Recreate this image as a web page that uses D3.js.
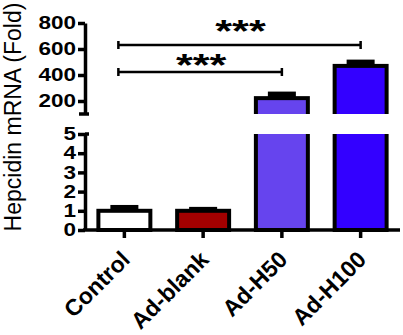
<!DOCTYPE html>
<html>
<head>
<meta charset="utf-8">
<script src="https://cdn.jsdelivr.net/npm/d3@7"></script>
<style>
  body { margin: 0; background: #fff; }
  svg { display: block; font-family: "Liberation Sans", Arial, sans-serif; }
</style>
</head>
<body>
<svg id="chart" width="403" height="335"></svg>
<script>
const groups = ["Control", "Ad-blank", "Ad-H50", "Ad-H100"];
const means = [1.0, 1.0, 222, 470];
const sems = [0.2, 0.1, 35, 33];
const colors = ["#ffffff", "#a30000", "#6644ee", "#3300ff"];
const lowTicks = [0, 1, 2, 3, 4, 5];
const highTicks = [200, 400, 600, 800];
const lowDomain = [0, 5];
const highDomain = [100, 800];
// significance brackets: [from group, to group, label]
const brackets = [["Control", "Ad-H100", "***"], ["Control", "Ad-H50", "***"]];
const bracketLevels = [630, 423];

var svg = d3.select("#chart");
const AXIS_X = 85;
const LINE_W = 3.5;
const STAR_SHIFT = [-3, 4];

var x = d3.scaleBand().domain(groups).range([AXIS_X, 400])
    .paddingInner(0.34).paddingOuter(0.17);
var yLow = d3.scaleLinear().domain(lowDomain).range([230, 134]);
var yHigh = d3.scaleLinear().domain(highDomain).range([114, 23]);

var data = groups.map((g, i) => ({ group: g, mean: means[i], sem: sems[i], color: colors[i] }));

var defs = svg.append("defs");
defs.append("clipPath").attr("id", "clipLow").append("rect")
    .attr("x", 0).attr("y", yLow(lowDomain[1])).attr("width", 403).attr("height", 240);
defs.append("clipPath").attr("id", "clipHigh").append("rect")
    .attr("x", 0).attr("y", 0).attr("width", 403).attr("height", yHigh(highDomain[0]));

// bottom panel bars
var low = svg.append("g").attr("clip-path", "url(#clipLow)");
low.selectAll("rect.bar").data(data).join("rect")
    .attr("class", "bar")
    .attr("x", d => x(d.group))
    .attr("width", x.bandwidth())
    .attr("y", d => d.mean > lowDomain[1] ? yLow(lowDomain[1]) - 10 : yLow(d.mean))
    .attr("height", d => yLow(0) - (d.mean > lowDomain[1] ? yLow(lowDomain[1]) - 10 : yLow(d.mean)))
    .attr("fill", d => d.color)
    .attr("stroke", "#000").attr("stroke-width", 4);
low.selectAll("rect.err").data(data.filter(d => d.mean <= lowDomain[1])).join("rect")
    .attr("class", "err")
    .attr("x", d => x(d.group) + x.bandwidth() / 2 - 14)
    .attr("width", 28)
    .attr("y", d => yLow(d.mean + d.sem) - 2)
    .attr("height", d => yLow(d.mean) - yLow(d.mean + d.sem) + 2)
    .attr("fill", "#000");

// top panel bars
var high = svg.append("g").attr("clip-path", "url(#clipHigh)");
var highData = data.filter(d => d.mean > lowDomain[1]);
high.selectAll("rect.bar").data(highData).join("rect")
    .attr("class", "bar")
    .attr("x", d => x(d.group))
    .attr("width", x.bandwidth())
    .attr("y", d => yHigh(d.mean))
    .attr("height", d => yHigh(highDomain[0]) + 10 - yHigh(d.mean))
    .attr("fill", d => d.color)
    .attr("stroke", "#000").attr("stroke-width", 4);
high.selectAll("rect.err").data(highData).join("rect")
    .attr("class", "err")
    .attr("x", d => x(d.group) + x.bandwidth() / 2 - 14)
    .attr("width", 28)
    .attr("y", d => yHigh(d.mean + d.sem) - 2)
    .attr("height", d => yHigh(d.mean) - yHigh(d.mean + d.sem) + 2)
    .attr("fill", "#000");

function styleAxis(g) {
    g.selectAll("path, line").attr("stroke", "#000").attr("stroke-width", LINE_W);
    g.selectAll("text").attr("fill", "#000").attr("font-weight", "bold");
}

// y axes
var axLow = svg.append("g").attr("transform", "translate(" + AXIS_X + ",0)")
    .call(d3.axisLeft(yLow).tickValues(lowTicks).tickFormat(d3.format("d"))
        .tickSize(7).tickSizeOuter(0).tickPadding(3));
var axHigh = svg.append("g").attr("transform", "translate(" + AXIS_X + ",0)")
    .call(d3.axisLeft(yHigh).tickValues(highTicks).tickFormat(d3.format("d"))
        .tickSize(7).tickSizeOuter(0).tickPadding(3));
[axLow, axHigh].forEach(function (ax) {
    styleAxis(ax);
    ax.selectAll("text")
        .attr("font-size", 18)
        .attr("x", 0)
        .attr("transform", "translate(-9,0) scale(1.25,1)");
});
// break caps
axHigh.append("line").attr("x1", -6).attr("x2", 4)
    .attr("y1", yHigh(highDomain[0])).attr("y2", yHigh(highDomain[0]))
    .attr("stroke", "#000").attr("stroke-width", LINE_W);
axLow.append("line").attr("x1", 0).attr("x2", 4)
    .attr("y1", yLow(lowDomain[1])).attr("y2", yLow(lowDomain[1]))
    .attr("stroke", "#000").attr("stroke-width", LINE_W);

// x axis
var axX = svg.append("g").attr("transform", "translate(0," + yLow(0) + ")")
    .call(d3.axisBottom(x).tickSize(8).tickSizeOuter(0).tickFormat(""));
styleAxis(axX);
axX.select(".domain").attr("d", "M" + (AXIS_X - 2) + ",0H400");

svg.append("g").selectAll("text").data(groups).join("text")
    .attr("transform", d => "translate(" + (x(d) + x.bandwidth() / 2 + 7) + ",261) rotate(-45)")
    .attr("text-anchor", "end")
    .attr("font-size", 23)
    .attr("font-weight", "bold")
    .text(d => d);

// y title
svg.append("text")
    .attr("transform", "translate(21,117) rotate(-90)")
    .attr("text-anchor", "middle")
    .attr("font-size", 23)
    .attr("font-weight", 500)
    .text("Hepcidin mRNA (Fold)");

// significance brackets
var br = svg.append("g");
brackets.forEach(function (b, i) {
    var x1 = x(b[0]) + x.bandwidth() / 2 - 6;
    var x2 = x(b[1]) + x.bandwidth() / 2;
    var yy = yHigh(bracketLevels[i]);
    br.append("path")
        .attr("d", "M" + x1 + "," + (yy - 4) + "V" + (yy + 4) + "M" + x1 + "," + yy + "H" + x2 +
            "M" + x2 + "," + (yy - 4) + "V" + (yy + 4))
        .attr("fill", "none").attr("stroke", "#000").attr("stroke-width", 2.5);
    br.append("text")
        .attr("transform", "translate(" + ((x1 + x2) / 2 + 1) + "," + (yy + STAR_SHIFT[i]) + ") scale(1.35,1)")
        .attr("text-anchor", "middle")
        .attr("font-size", 32)
        .attr("font-weight", "bold")
        .text(b[2]);
});
</script>
</body>
</html>
